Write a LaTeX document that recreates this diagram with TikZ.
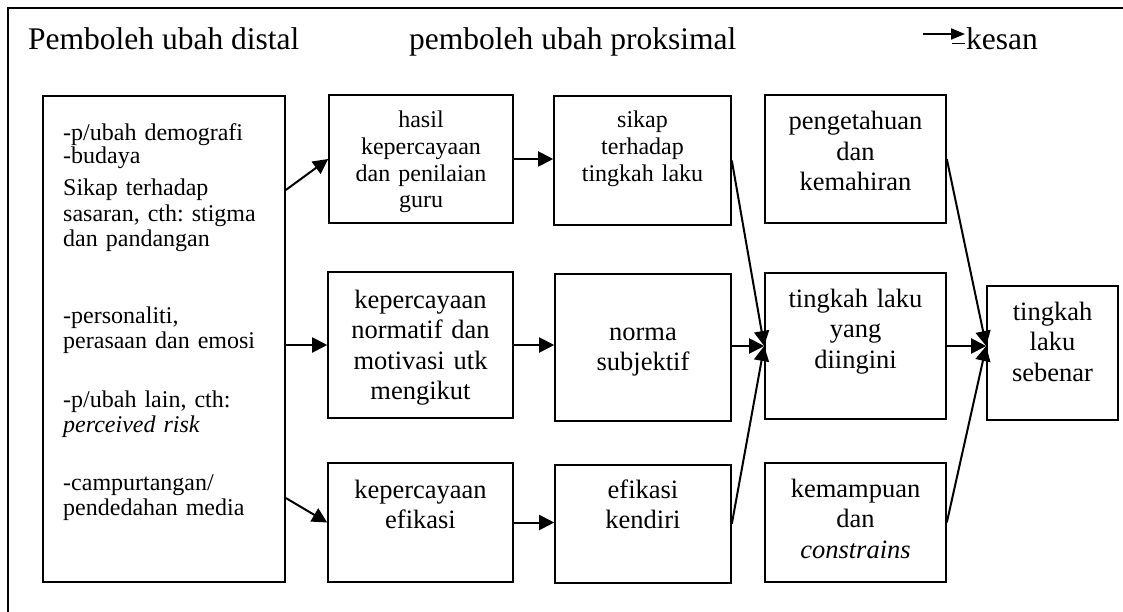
\documentclass[tikz,border=0pt]{standalone}
\usepackage{fontspec}
\setmainfont{Liberation Serif}
\usetikzlibrary{arrows.meta,fit}
\newcommand\fsz[2]{\fontsize{#1pt}{#2pt}\selectfont}
\frenchspacing
\begin{document}
\begin{tikzpicture}[x=1pt,y=-1pt,
  box/.style={draw, line width=1.6pt, inner sep=0pt},
  arr/.style={line width=2pt, -{Triangle[length=15pt,width=15pt]}},
  legarr/.style={line width=2pt, -{Triangle[length=14pt,width=11pt]}},
  lbl/.style={anchor=base, align=center, inner sep=0pt},
  lbs/.style={lbl, font=\fsz{24}{26.6}},
  lbm/.style={lbl, font=\fsz{26.5}{30.5}},
  lft/.style={anchor=base west, align=left, inner sep=0pt, text width=220pt, font=\fsz{24}{25.5}},
  title/.style={anchor=base west, inner sep=0pt, font=\fsz{31.5}{36}}]
\useasboundingbox (0,0) rectangle (1123,612);
% outer frame
\draw[line width=1.2pt] (8,8) rectangle (1140,630);
% titles
\node[title] (t1) at (28,50) {Pemboleh ubah distal};
\node[title] (t2) at (409,50) {pemboleh ubah proksimal};
\node[title] (t3) at (966,50) {kesan};
\coordinate (la) at (923,34);
\coordinate (lz) at (965,34);
\draw[legarr] (la) -- (lz);
\coordinate (ua) at (952,43);
\coordinate (ub) at (965,43);
\draw[line width=0.9pt] (ua) -- (ub);
% boxes
\node[box, fit={(43,96) (285,582)}] (lb) {};
\node[box, fit={(329,95) (513,223)}] (hasil) {};
\node[box, fit={(554,96) (731,225)}] (sikap) {};
\node[box, fit={(765,95) (946,223)}] (peng) {};
\node[box, fit={(328,272) (513,418)}] (norm) {};
\node[box, fit={(555,274) (731,421)}] (norma) {};
\node[box, fit={(765,273) (946,419)}] (diin) {};
\node[box, fit={(987,286) (1118,420)}] (seb) {};
\node[box, fit={(328,463) (513,582)}] (kef) {};
\node[box, fit={(555,465) (731,583)}] (ek) {};
\node[box, fit={(765,463) (946,582)}] (kem) {};
% left box text
\node[lft, font=\fsz{24}{21}] (l1) at (63,141) {-p/ubah demografi\\-budaya};
\node[lft] (l2) at (63,196) {Sikap terhadap\\sasaran, cth: stigma\\dan pandangan};
\node[lft] (l3) at (63,323) {-personaliti,\\perasaan dan emosi};
\node[lft] (l4) at (63,407) {-p/ubah lain, cth:\\\textit{perceived risk}};
\node[lft] (l5) at (63,490) {-campurtangan/\\pendedahan media};
% box texts
\node[lbs, text width=180pt] (hasilT) at (421,128) {hasil\\kepercayaan\\dan penilaian\\guru};
\node[lbs, text width=175pt] (sikapT) at (642.5,128) {sikap\\terhadap\\tingkah laku};
\node[lbm, text width=180pt] (pengT) at (855.5,130) {pengetahuan\\dan\\kemahiran};
\node[lbm, text width=185pt] (normT) at (420.5,308) {kepercayaan\\normatif dan\\motivasi utk\\mengikut};
\node[lbm, text width=175pt] (normaT) at (643,340) {norma\\subjektif};
\node[lbm, text width=180pt] (diinT) at (855.5,307) {tingkah laku\\yang\\diingini};
\node[lbm, text width=130pt] (sebT) at (1052.5,320) {tingkah\\laku\\sebenar};
\node[lbm, text width=185pt] (kefT) at (420.5,498) {kepercayaan\\efikasi};
\node[lbm, text width=175pt] (ekT) at (643,498) {efikasi\\kendiri};
\node[lbm, text width=180pt] (kemT) at (855.5,497) {kemampuan\\dan\\\textit{constrains}};
% connectors
\draw[arr] (lb.east |- 0,190) -- (hasil.west);
\draw[arr] (lb.east |- norm.west) -- (norm.west);
\draw[arr] (lb.east |- 0,498) -- (kef.west);
\draw[arr] (hasil.east) -- (hasil.east -| sikap.west);
\draw[arr] (norm.east) -- (norm.east -| norma.west);
\draw[arr] (kef.east) -- (kef.east -| ek.west);
\draw[arr] (sikap.east) -- (diin.west);
\draw[arr] (norma.east |- diin.west) -- (diin.west);
\draw[arr] (ek.east) -- (diin.west);
\draw[arr] (peng.east) -- (seb.west |- diin.east);
\draw[arr] (diin.east) -- (seb.west |- diin.east);
\draw[arr] (kem.east) -- (seb.west |- diin.east);
\end{tikzpicture}
\end{document}
